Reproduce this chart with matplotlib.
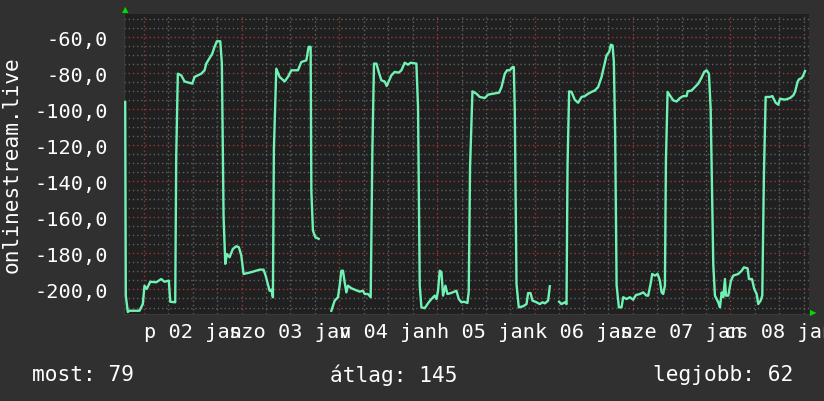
import numpy as np
import matplotlib
matplotlib.use('Agg')
import matplotlib.pyplot as plt

# órák 2026. jan 02 00:00-tól, None = hiányzó adat
hours = [-4.57, -4.42, -3.93, -3.51, -1.06, -0.25, 0.17, 0.74, 1.57, 3.05,
         4.27, 5.08, 6.14, 6.49, 7.71, 7.96, 8.35, 9.19, 10.0, 11.89,
         12.45, 14.10, 14.91, 15.33, 16.80, 17.37, 17.93, 18.77, 19.16, 19.58,
         20.0, 20.39, 21.05, 21.86, 22.70, 23.34, 23.93, 24.49, 26.38, 28.42,
         29.40, 29.90, 30.88, 31.30, 31.69, 31.93, 32.52, 33.34, 34.56, 35.37,
         36.21, 37.83, 38.67, 39.89, 40.46, 40.95, 41.12, 41.51, 42.10, 42.92,
         44.5,
         46.03, 46.85, 47.66, 48.07, 48.49, 48.89, 49.30, 49.72, 50.11, 50.95,
         51.76, 52.99, 53.80, 54.22, 55.03, 55.69, 56.11, 56.50, 57.09, 57.66,
         58.32, 59.13, 59.62, 60.11, 60.77, 61.58, 62.57, 63.23, 64.04, 64.85,
         65.51, 66.91, 67.31, 67.73, 68.14, 68.95, 69.94, 70.60, 71.41, 71.83,
         72.22, 72.64, 73.06, 73.45, 74.04, 74.53, 75.51, 76.74, 77.31, 77.97,
         78.61, 79.44, 79.76, 80.08, 80.67, 81.65, 82.46, 83.69, 84.50, 85.73,
         87.21, 87.80, 88.61, 89.17, 89.83, 90.50, 90.82, 91.06, 91.48, 92.04,
         93.10, 93.94, 94.33, 94.92, 95.41, 96.39, 97.20, 97.87, 98.43, 99.24,
         99.66,
         100.8,
         101.94, 102.53, 103.35, 103.76, 104.01, 104.40, 104.99, 105.80, 106.61,
         107.45, 108.26, 109.07, 109.90, 110.71, 111.52, 112.36, 112.92, 113.59,
         114.23, 114.64, 115.06, 115.38, 115.70, 116.05, 116.61, 117.27, 117.67,
         118.50, 119.31, 120.12, 120.79, 121.77, 122.58, 123.41, 123.81, 124.47,
         124.79, 125.45, 126.12, 126.68, 127.10, 127.49, 127.91, 128.16, 128.57,
         129.14, 129.95, 130.78, 131.59, 132.40, 133.24, 133.49, 134.47, 135.28,
         136.09, 136.75, 137.56, 138.15, 138.72, 139.14, 139.78, 140.19, 141.0,
         141.42, 141.84, 142.23, 142.65, 142.89, 143.46, 144.12, 144.69, 145.91,
         146.75, 147.31, 148.22, 148.54, 149.28, 149.84, 150.43, 150.82, 151.41,
         151.81, 152.22, 152.64, 153.70, 154.27, 155.10, 155.74, 156.16, 157.39,
         158.62, 159.43, 159.85, 160.51, 160.83, 161.49, 161.88, 162.30]

values = [-96.0, -203.4, -212.5, -211.8, -211.8, -208.1, -197.9, -199.7, -195.7, -196.0,
          -194.2, -195.7, -195.1, -206.8, -207.1, -125.7, -80.3, -81.2, -84.6, -85.8,
          -82.1, -80.3, -78.4, -74.7, -69.2, -65.4, -62.3, -62.3, -74.7, -159.9,
          -185.8, -180.3, -182.1, -177.5, -176.0, -176.6, -181.2, -191.4, -190.4, -189.0,
          -189.0, -192.3, -200.7, -200.1, -204.3, -121.9, -77.5, -82.1, -84.6, -82.1,
          -78.4, -78.4, -73.8, -72.9, -65.4, -65.4, -145.1, -167.3, -171.0, -171.9,
          None,
          -211.8, -206.2, -204.3, -197.9, -189.6, -189.6, -196.0, -201.6, -197.9, -199.3,
          -200.1, -201.2, -200.7, -202.5, -202.5, -204.3, -121.9, -74.7, -74.7, -79.3,
          -84.0, -84.6, -87.1, -84.6, -81.2, -79.3, -79.7, -78.4, -74.2, -75.3,
          -74.2, -74.7, -98.8, -197.9, -209.9, -210.4, -207.1, -205.3, -203.4, -205.3,
          -200.7, -189.6, -190.4, -203.4, -197.9, -202.5, -201.9, -200.7, -205.3, -207.1,
          -206.8, -207.5, -201.2, -132.1, -90.1, -91.4, -93.2, -93.8, -91.9, -91.4,
          -90.8, -87.7, -80.3, -78.4, -78.4, -76.6, -76.6, -100.7, -196.9, -209.9,
          -209.3, -208.1, -202.0, -202.0, -206.2, -207.1, -208.1, -207.1, -207.7, -206.2,
          -198.2,
          None,
          -206.8, -208.1, -207.1, -208.1, -131.2, -90.1, -90.4, -94.8, -96.4,
          -93.2, -92.7, -91.4, -90.4, -89.6, -87.7, -82.1, -76.6, -70.1,
          -68.2, -64.2, -64.6, -73.8, -114.2, -197.5, -209.9, -209.9, -204.3,
          -205.3, -204.3, -205.7, -203.1, -202.5, -201.6, -203.4, -203.4, -196.0,
          -191.4, -192.3, -191.4, -195.1, -201.6, -202.5, -197.9, -128.4, -90.4,
          -92.3, -95.1, -95.7, -93.8, -92.7, -92.7, -90.1, -89.6, -87.7,
          -85.8, -83.1, -79.3, -78.4, -80.3, -99.7, -185.8, -203.4, -207.1,
          -209.9, -201.6, -204.3, -194.2, -203.4, -203.4, -195.1, -192.3, -191.4,
          -189.6, -187.7, -188.3, -194.2, -194.2, -199.7, -202.5, -208.1, -206.2,
          -203.4, -135.8, -93.2, -93.2, -92.7, -96.4, -97.5, -94.2, -94.7,
          -93.8, -92.3, -90.4, -84.6, -83.4, -82.7, -81.2, -78.8]

# napok feliratai (a nap közepére)
day_labels = ['p 02 jan', 'szo 03 jan', 'v 04 jan', 'h 05 jan',
              'k 06 jan', 'sze 07 jan', 'cs 08 jan']
y_ticks = [-60, -80, -100, -120, -140, -160, -180, -200]
legend_texts = ['most: 79', 'átlag: 145', 'legjobb: 62']

# színek
bg_color = '#303030'
plot_color = '#202020'
line_color = '#70f2b4'
minor_grid = '#606060'
major_grid = '#963838'

plt.rcParams['font.family'] = ['DejaVu Sans Mono', 'DejaVu Sans']

fig = plt.figure(figsize=(8.24, 4.02), dpi=100, facecolor=bg_color)
ax = fig.add_axes([124.5 / 824, 1 - 315 / 402, (809 - 124.5) / 824, (315 - 14.5) / 402])
ax.set_facecolor(plot_color)

x_min, x_max = -4.74, 163.28
y_min, y_max = -213.6, -46.9
ax.set_xlim(x_min, x_max)
ax.set_ylim(y_min, y_max)

# rács (szürke: 5 / 6 óra, piros: 20 / éjfél)
dots = (0, (1, 2))
for yy in range(-210, -45, 5):
    col = major_grid if yy % 20 == 0 else minor_grid
    ax.axhline(yy, color=col, lw=1.0, ls=dots, zorder=1)
for xx in range(-24, 170, 6):
    col = major_grid if xx % 24 == 0 else minor_grid
    ax.axvline(xx, color=col, lw=1.0, ls=dots, zorder=1)

# adatsor
y_arr = np.array([np.nan if v is None else v for v in values])
ax.plot(hours, y_arr, color=line_color, lw=1.7, zorder=3)

# tengelyek
ax.set_yticks(y_ticks)
ax.set_yticklabels([f'{t:.1f}'.replace('.', ',') for t in y_ticks])
ax.set_xticks([12 + 24 * i for i in range(len(day_labels))])
ax.set_xticklabels(day_labels)
ax.tick_params(axis='both', length=0, colors='white', labelsize=14.6)
ax.tick_params(axis='x', pad=6)
ax.tick_params(axis='y', pad=12)
for side in ['top', 'right']:
    ax.spines[side].set_visible(False)
for side in ['left', 'bottom']:
    ax.spines[side].set_color('#3a3a3a')

ax.set_ylabel('onlinestream.live', color='white', fontsize=15.2)
ax.yaxis.label.set_va('center')
ax.yaxis.set_label_coords(-112.5 / 684.5, 0.5)

# zöld nyilak
fig.text(125 / 824, 1 - 10 / 402, '▲', color='#00dd00', fontsize=6,
         ha='center', va='center', family='DejaVu Sans')
fig.text(813 / 824, 1 - 313 / 402, '▶', color='#00dd00', fontsize=6,
         ha='center', va='center', family='DejaVu Sans')

# jelmagyarázat alul
fig.text(32 / 824, 1 - 375 / 402, legend_texts[0], color='white', fontsize=15.2,
         ha='left', va='center')
fig.text(394 / 824, 1 - 375 / 402, legend_texts[1], color='white', fontsize=15.2,
         ha='center', va='center')
fig.text(793 / 824, 1 - 375 / 402, legend_texts[2], color='white', fontsize=15.2,
         ha='right', va='center')

plt.savefig('out.png', dpi=100, facecolor=bg_color)
